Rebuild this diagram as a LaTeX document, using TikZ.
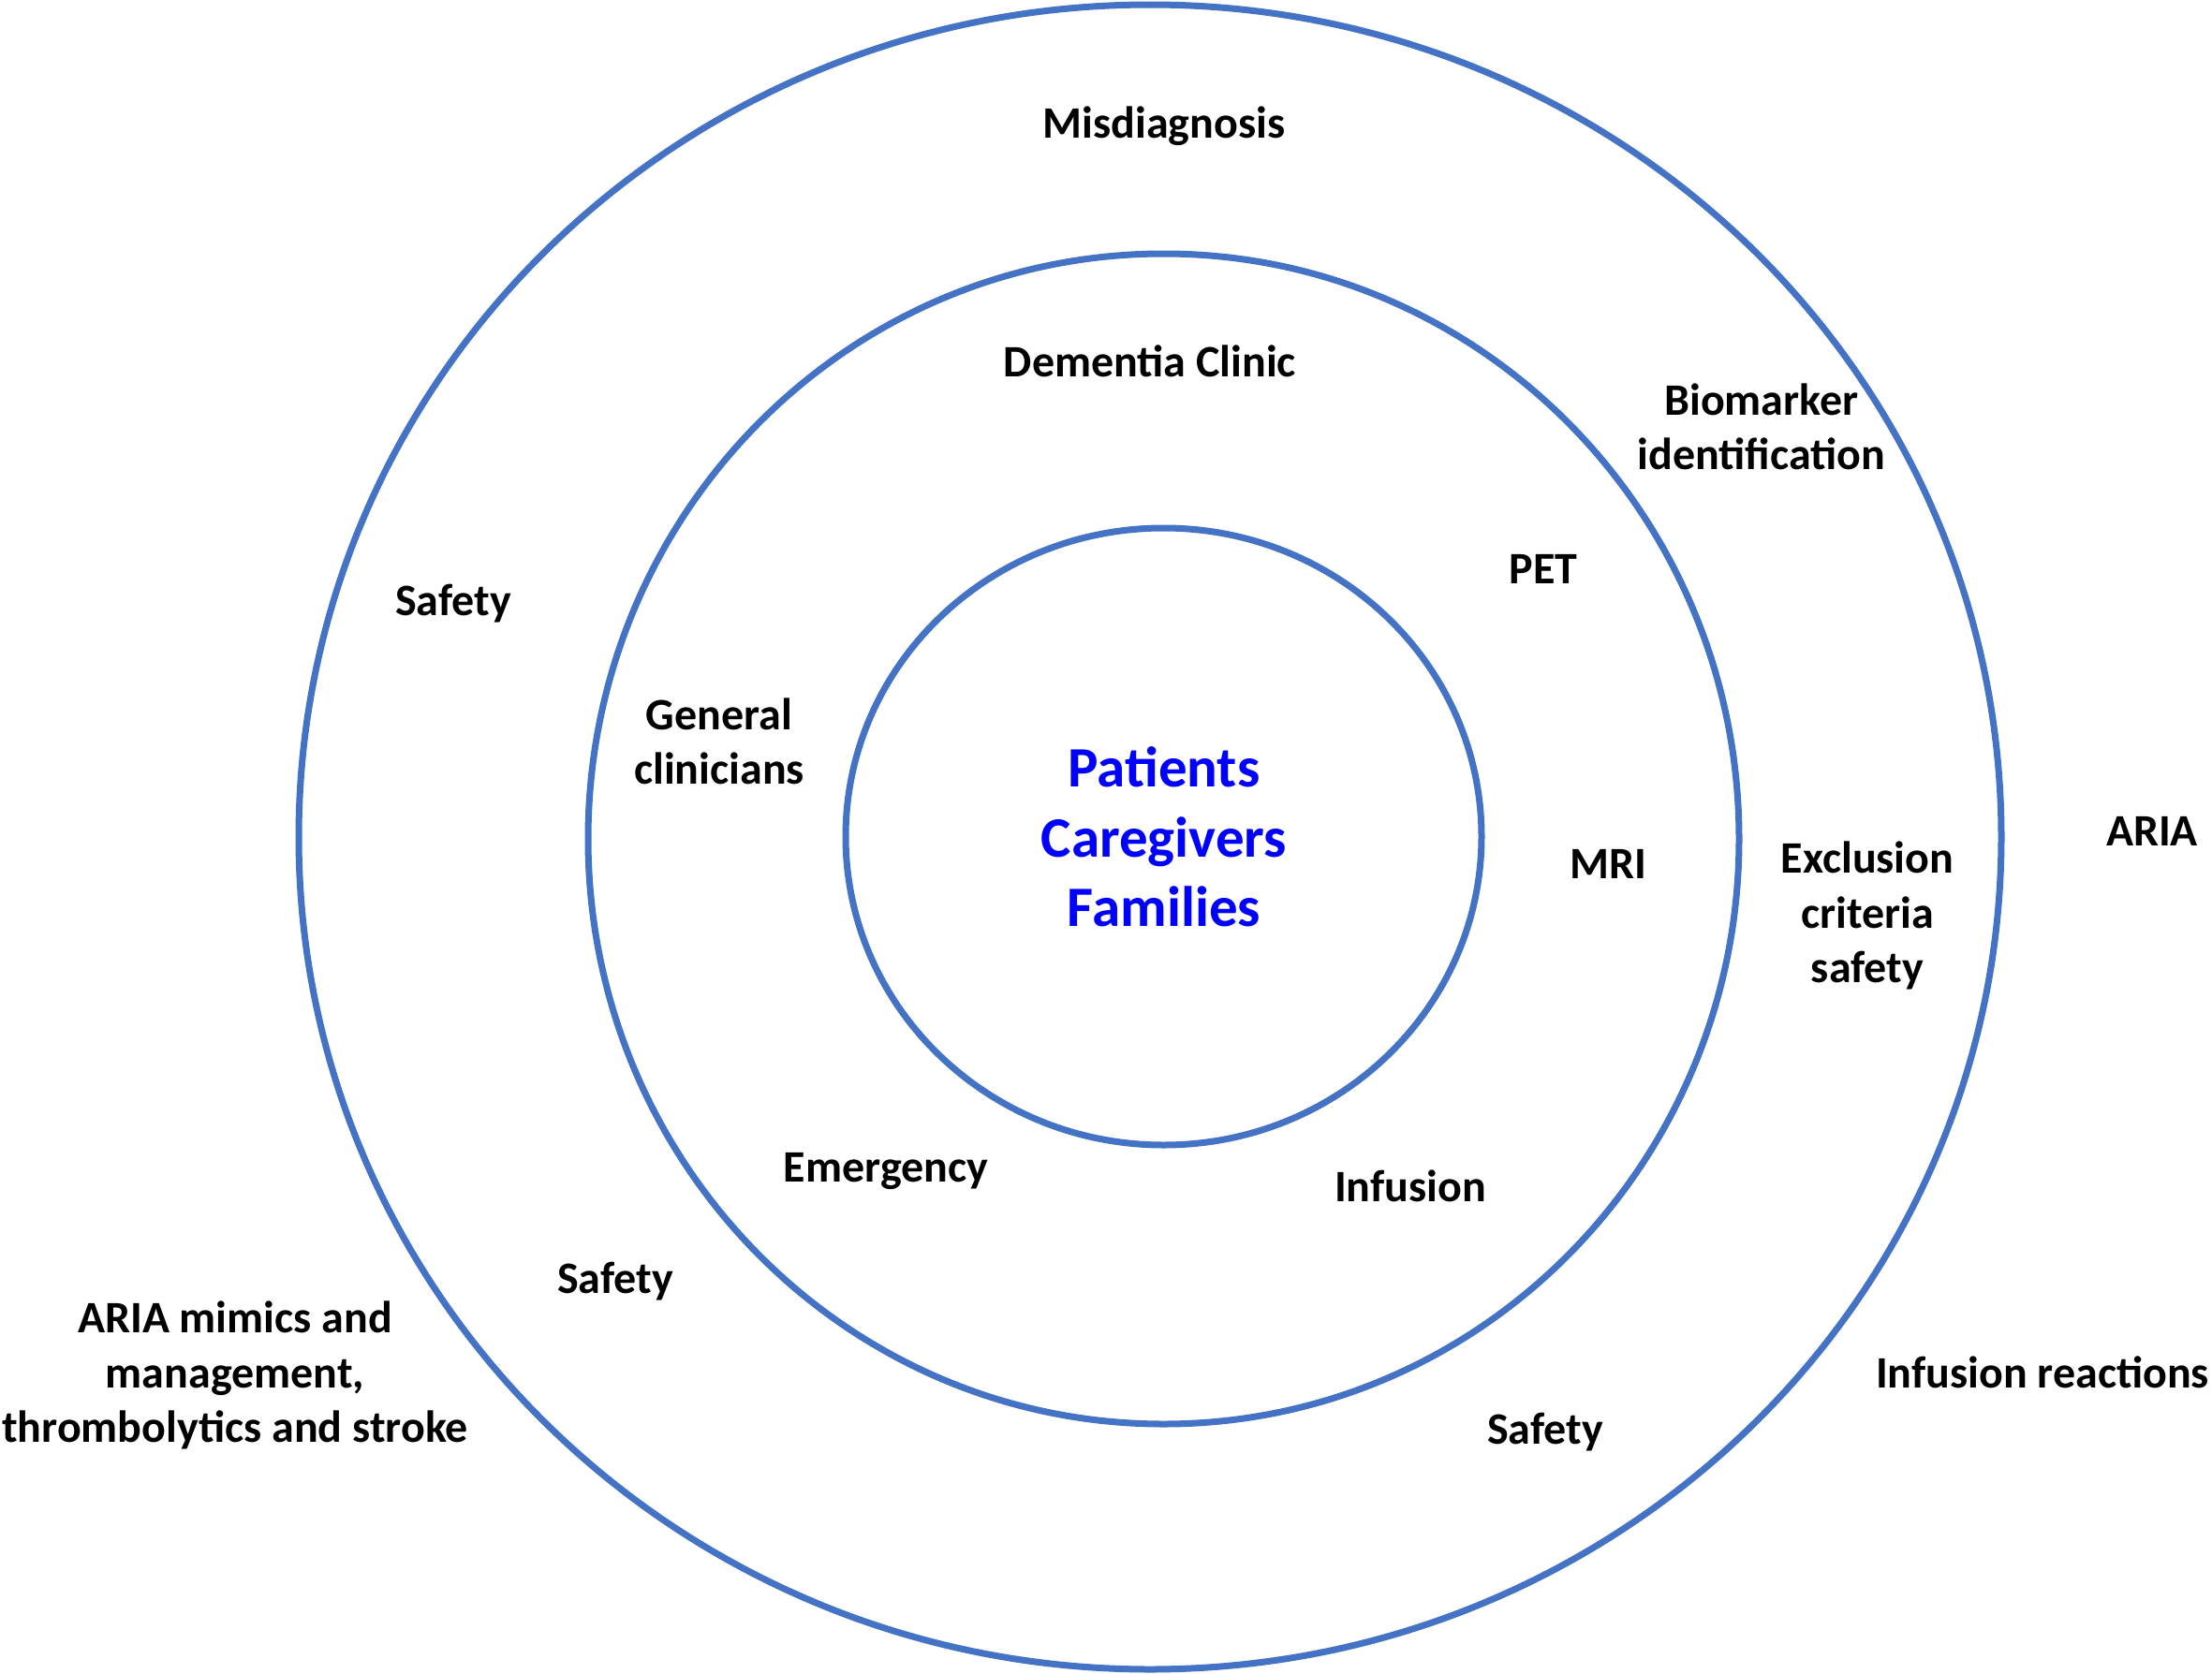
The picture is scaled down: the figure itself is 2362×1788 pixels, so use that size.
\documentclass[tikz,border=0pt]{standalone}
\usepackage{fontspec}
\setmainfont{Carlito}
\definecolor{ringblue}{HTML}{4472C4}
\definecolor{txtblue}{HTML}{0000FF}
\begin{document}
\begin{tikzpicture}[x=1pt,y=-1pt,
  ring/.style={draw=ringblue,line width=7pt},
  lbl/.style={font=\fontsize{48}{58.5}\selectfont\bfseries,text=black,align=center,inner sep=0pt},
  core/.style={font=\fontsize{61}{74.5}\selectfont\bfseries,text=txtblue,align=center,inner sep=0pt}]
\useasboundingbox[fill=white] (0,0) rectangle (2362,1788);
\draw[ring] (1228,894) ellipse [x radius=909, y radius=889];
\draw[ring] (1242.5,896) ellipse [x radius=614.5, y radius=625];
\draw[ring] (1242.5,893.5) ellipse [x radius=339.5, y radius=329.5];
\node[lbl] (misd) at (1243,135) {Misdiagnosis};
\node[lbl] (dem) at (1228,386) {Dementia Clinic};
\node[lbl] (bio) at (1881,456) {Biomarker\\identification};
\node[lbl] (saf1) at (484,645) {Safety};
\node[lbl] (pet) at (1648,608) {PET};
\node[lbl] (gen) at (768,792) {General\\clinicians};
\node[core] (pcf) at (1243,894) {Patients\\Caregivers\\Families};
\node[lbl] (mri) at (1717,923) {MRI};
\node[lbl] (excl) at (1994,978) {Exclusion\\criteria\\safety};
\node[lbl] (aria) at (2298,888) {ARIA};
\node[lbl] (emerg) at (946,1251) {Emergency};
\node[lbl] (inf) at (1506,1267) {Infusion};
\node[lbl] (saf2) at (657,1369) {Safety};
\node[lbl] (mimic) at (251,1469) {ARIA mimics and\\management,\\thrombolytics and stroke};
\node[lbl] (infr) at (2181,1466) {Infusion reactions};
\node[lbl] (saf3) at (1650,1530) {Safety};
\end{tikzpicture}
\end{document}
